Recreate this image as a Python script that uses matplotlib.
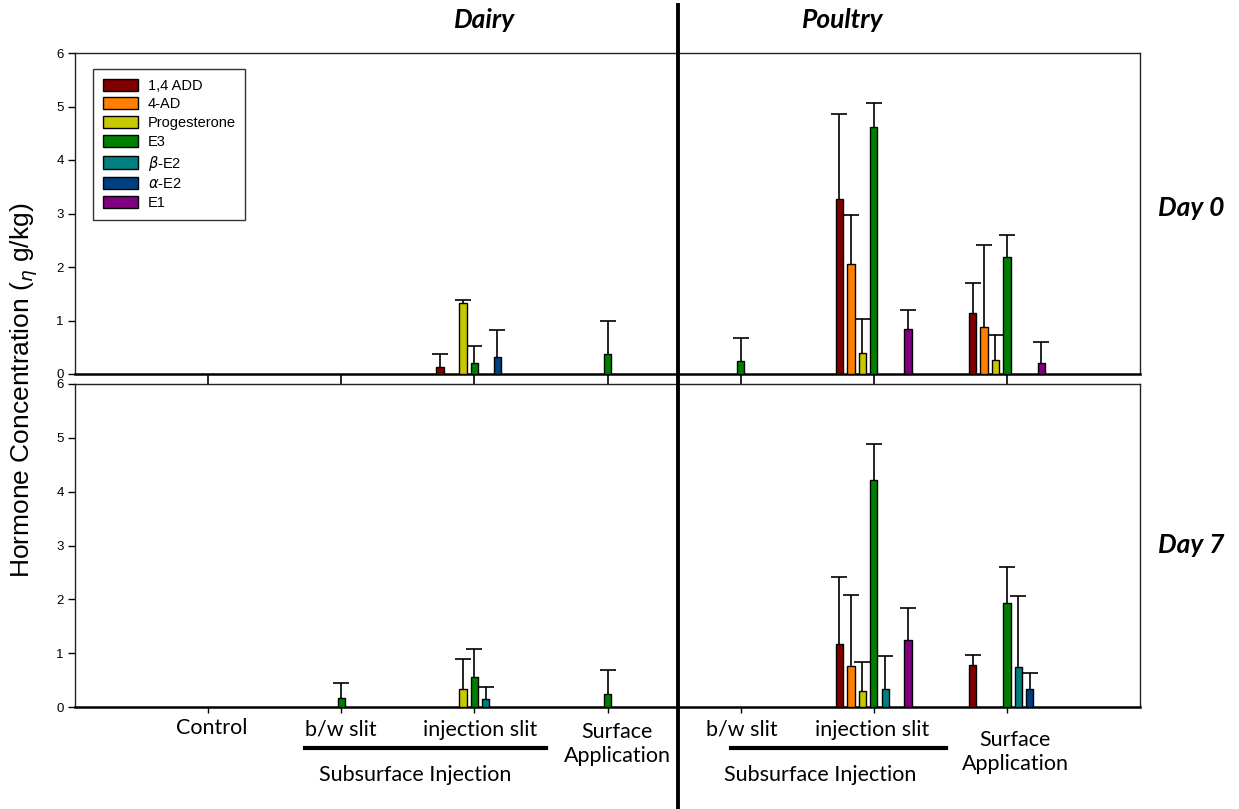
import numpy as np
import matplotlib
matplotlib.use("Agg")
import matplotlib.pyplot as plt
from matplotlib.lines import Line2D
from matplotlib.patches import Patch

# Treatment groups along the x axis (Control, then dairy and poultry manure treatments)
groups = ["Control", "Dairy b/w slit", "Dairy injection slit", "Dairy surface",
          "Poultry b/w slit", "Poultry injection slit", "Poultry surface"]

hormones = ["1,4 ADD", "4-AD", "Progesterone", "E3", r"$\beta$-E2", r"$\alpha$-E2", "E1"]
colors = ["#800000", "#FF8000", "#C8C800", "#008000", "#008080", "#004080", "#800080"]

N = None
# Day 0 means (ng/kg), one row per hormone, one column per group
day0_mean = [
    [N, N, 0.14, N, N, 3.28, 1.14],
    [N, N, N, N, N, 2.05, 0.88],
    [N, N, 1.33, N, N, 0.39, 0.27],
    [N, N, 0.20, 0.37, 0.24, 4.62, 2.19],
    [N, N, N, N, N, N, N],
    [N, N, 0.31, N, N, N, N],
    [N, N, N, N, N, 0.85, 0.21],
]
day0_err = [
    [N, N, 0.23, N, N, 1.58, 0.56],
    [N, N, N, N, N, 0.93, 1.54],
    [N, N, 0.06, N, N, 0.64, 0.45],
    [N, N, 0.32, 0.62, 0.43, 0.45, 0.41],
    [N, N, N, N, N, N, N],
    [N, N, 0.52, N, N, N, N],
    [N, N, N, N, N, 0.34, 0.38],
]
# Day 7 means and standard deviations
day7_mean = [
    [N, N, N, N, N, 1.17, 0.78],
    [N, N, N, N, N, 0.76, N],
    [N, N, 0.33, N, N, 0.30, N],
    [N, 0.16, 0.55, 0.25, N, 4.21, 1.93],
    [N, N, 0.14, N, N, 0.34, 0.75],
    [N, N, N, N, N, N, 0.33],
    [N, N, N, N, N, 1.24, N],
]
day7_err = [
    [N, N, N, N, N, 1.24, 0.18],
    [N, N, N, N, N, 1.32, N],
    [N, N, 0.57, N, N, 0.53, N],
    [N, 0.28, 0.53, 0.43, N, 0.67, 0.67],
    [N, N, 0.23, N, N, 0.60, 1.31],
    [N, N, N, N, N, N, 0.31],
    [N, N, N, N, N, 0.59, N],
]

W, H = 1239, 809
fig = plt.figure(figsize=(W / 100, H / 100), dpi=100)

tick_font = {"family": ["Liberation Sans", "DejaVu Sans"], "size": 9.5}
label_family = ["Lato", "DejaVu Sans"]

def frac(x0, y0, x1, y1):
    return [x0 / W, 1 - y1 / H, (x1 - x0) / W, (y1 - y0) / H]

ax0 = fig.add_axes(frac(75, 53, 1140, 374))
ax7 = fig.add_axes(frac(75, 384, 1140, 707))

step = 0.086
width = 0.055
xpos = np.arange(1, len(groups) + 1)

def draw(ax, means, errs):
    for h, (col, mrow, erow) in enumerate(zip(colors, means, errs)):
        for g, (m, e) in enumerate(zip(mrow, erow)):
            if m is None:
                continue
            x = xpos[g] + (h - 3) * step
            ax.bar(x, m, width=width, color=col, edgecolor="black",
                   linewidth=1.0, zorder=3)
            if e is not None:
                eb = ax.errorbar(x, m, yerr=[[0], [e]], fmt="none", ecolor="black",
                                 elinewidth=1.2, capsize=6, capthick=1.2, zorder=2)
                # one-sided error bar: keep only the upper cap
                eb[1][0].set_visible(False)
    ax.set_xlim(0, 8)
    ax.set_ylim(0, 6)
    ax.set_xticks(xpos)
    ax.set_xticklabels([])
    ax.set_yticks(range(7))
    ax.set_yticklabels([str(v) for v in range(7)], fontdict=tick_font)
    ax.tick_params(axis="y", direction="out", length=5, width=1, pad=3)
    for s in ax.spines.values():
        s.set_linewidth(1.0)
        s.set_color("#222222")
    ax.spines["bottom"].set_linewidth(1.8)
    ax.spines["bottom"].set_color("black")

draw(ax0, day0_mean, day0_err)
draw(ax7, day7_mean, day7_err)
ax0.tick_params(axis="x", direction="out", length=8, width=1.2)
ax7.tick_params(axis="x", direction="out", length=4, width=1)

handles = [Patch(facecolor=c, edgecolor="black", linewidth=1.0) for c in colors]
leg = ax0.legend(handles, hormones, loc="upper left", bbox_to_anchor=(0.017, 0.950),
                 borderaxespad=0, frameon=True, fancybox=False, edgecolor="black",
                 prop={"family": ["Liberation Sans", "DejaVu Sans"], "size": 10.5},
                 handlelength=2.4, handleheight=0.9, labelspacing=0.32,
                 borderpad=0.65, handletextpad=0.7)
leg.get_frame().set_linewidth(1.0)

# Panel headings
title_kw = dict(fontsize=19, fontweight="bold", fontstyle="italic",
                family=["Lato", "DejaVu Sans"], ha="center", va="center")
fig.text(485 / W, 1 - 20 / H, "Dairy", **title_kw)
fig.text(843 / W, 1 - 20 / H, "Poultry", **title_kw)
fig.text(1191 / W, 1 - 208 / H, "Day 0", **title_kw)
fig.text(1191 / W, 1 - 545 / H, "Day 7", **title_kw)

fig.text(24 / W, 1 - 390 / H, r"Hormone Concentration ($_\eta$ g/kg)", rotation=90,
         fontsize=19, family=["Liberation Sans", "DejaVu Sans"], ha="center", va="center")

# Divider between manure types
fig.add_artist(Line2D([678 / W, 678 / W], [1 - 5 / H, 0], color="black", linewidth=2.8))

# Treatment labels beneath the axes
lab_kw = dict(fontsize=15.5, family=label_family, ha="center", va="center")
fig.text(212 / W, 1 - 728 / H, "Control", **lab_kw)
fig.text(341 / W, 1 - 730 / H, "b/w slit", **lab_kw)
fig.text(480 / W, 1 - 730 / H, "injection slit", **lab_kw)
fig.text(617 / W, 1 - 744 / H, "Surface\nApplication", linespacing=1.25, **lab_kw)
fig.text(742 / W, 1 - 730 / H, "b/w slit", **lab_kw)
fig.text(872 / W, 1 - 730 / H, "injection slit", **lab_kw)
fig.text(1015 / W, 1 - 752 / H, "Surface\nApplication", linespacing=1.25, **lab_kw)
fig.text(415 / W, 1 - 775 / H, "Subsurface Injection", **lab_kw)
fig.text(820 / W, 1 - 775 / H, "Subsurface Injection", **lab_kw)
fig.add_artist(Line2D([305 / W, 546 / W], [1 - 748 / H] * 2, color="black", linewidth=3))
fig.add_artist(Line2D([731 / W, 946 / W], [1 - 748 / H] * 2, color="black", linewidth=3))

fig.savefig("out.png", dpi=100)
